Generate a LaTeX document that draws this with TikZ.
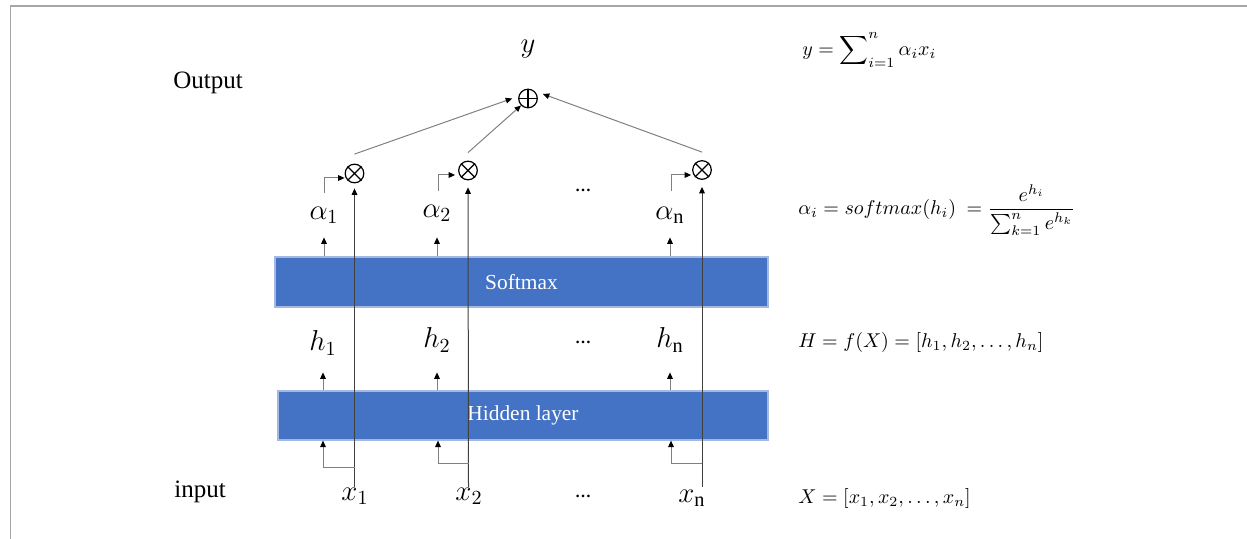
\documentclass[tikz,border=0pt]{standalone}
\usepackage{fontspec}
\setmainfont{Liberation Serif}
\usepackage{amsmath}
\usetikzlibrary{arrows.meta}
\definecolor{boxblue}{HTML}{4472C4}
\definecolor{boxedge}{HTML}{A5B8E0}
\definecolor{linegray}{HTML}{808080}
\definecolor{darkline}{HTML}{404040}
\definecolor{framegray}{HTML}{A6A6A6}
\begin{document}
\begin{tikzpicture}[x=0.5pt,y=-0.5pt,
  lbl/.style={inner sep=0pt, font=\fontsize{14.5}{17}\selectfont},
  frm/.style={inner sep=0pt, anchor=west, font=\fontsize{10.2}{13}\selectfont},
  ttl/.style={inner sep=0pt, font=\fontsize{12.5}{15}\selectfont},
  dotsnode/.style={inner sep=0pt, font=\bfseries\fontsize{8}{10}\selectfont},
  layer/.style={fill=boxblue, draw=boxedge, line width=0.6pt, text=white,
    font=\fontsize{10.7}{13}\selectfont, inner sep=0pt},
  tip/.style={-{Triangle[length=3.2pt,width=2.8pt,color=black]}},
  conn/.style={draw=linegray, line width=0.5pt, tip},
  vline/.style={draw=darkline, line width=0.5pt, tip},
  op/.style={circle, draw=black, line width=0.6pt, minimum size=9.3pt, inner sep=0pt},
]
\useasboundingbox (0,0) rectangle (1247,539);
\draw[framegray, line width=0.7pt] (10.5,539) -- (10.5,6) -- (1247,6);

% titles
\node[ttl, anchor=base] (out) at (208,89) {Output};
\node[ttl, anchor=base] (inp) at (200,497) {input};

% layers
\node[layer, minimum width=246.5pt, minimum height=25pt] (soft) at (521.5,282) {Softmax};
\node[layer, minimum width=245pt, minimum height=24.5pt] (hid) at (523,415.5) {Hidden layer};

% operators
\node[op] (m1) at (354.5,173.5) {};
\node[op] (m2) at (468,170.5) {};
\node[op] (mn) at (702,170) {};
\node[op] (plus) at (528,98.5) {};
\foreach \m in {m1,m2,mn}{
  \draw[line width=0.6pt] (\m.north west) -- (\m.south east) (\m.north east) -- (\m.south west);
}
\draw[line width=0.6pt] (plus.north) -- (plus.south) (plus.west) -- (plus.east);

% labels
\node[lbl] (y) at (528,49) {$y$};
\node[lbl] (a1) at (324,215) {$\alpha_1$};
\node[lbl] (a2) at (437,213) {$\alpha_2$};
\node[lbl] (an) at (670,215) {$\alpha_{\mathrm{n}}$};
\node[lbl] (h1) at (323,343) {$h_1$};
\node[lbl] (h2) at (437,340) {$h_2$};
\node[lbl] (hn) at (670,340) {$h_{\mathrm{n}}$};
\node[lbl] (x1) at (355,496) {$x_1$};
\node[lbl] (x2) at (469,496) {$x_2$};
\node[lbl] (xn) at (692,498) {$x_{\mathrm{n}}$};
\node[dotsnode] (d1) at (583,190) {\textellipsis};
\node[dotsnode] (d2) at (583,342) {\textellipsis};
\node[dotsnode] (d3) at (583,496) {\textellipsis};

% formulas
\node[frm] (fy) at (802,50) {$\displaystyle y=\sum\nolimits_{i=1}^{n}\alpha_i x_i$};
\node[frm] (fa) at (798,210) {$\displaystyle \alpha_i = softmax(h_i)\ = \frac{e^{h_i}}{\textstyle\sum_{k=1}^{n} e^{h_k}}$};
\node[frm] (fh) at (798,343) {$H=f(X)=[h_1,h_2,\ldots,h_n]$};
\node[frm] (fx) at (798,498) {$X=[x_1,x_2,\ldots,x_n]$};

% connectors to the sum
\draw[conn] ([yshift=4.75pt]m1.north) -- ([xshift=-3pt]plus.west);
\draw[conn] ([yshift=4pt]m2.north) -- (plus.south west);
\draw[conn] ([yshift=4pt]mn.north) -- ([shift={(2.5pt,2.25pt)}]plus.east);

% arrows above softmax
\draw[conn] (soft.north -| a1) -- ++(0,-19);
\draw[conn] (soft.north -| a2) -- ++(0,-19);
\draw[conn] (soft.north -| an) -- ++(0,-19);
% arrows above hidden layer
\draw[conn] (hid.north -| h1) -- ++(0,-18);
\draw[conn] (hid.north -| h2) -- ++(0,-18);
\draw[conn] (hid.north -| hn) -- ++(0,-18);

% elbows from alpha to multiply
\draw[conn] (324,193) |- ([yshift=-2.25pt]m1.west);
\draw[conn] (438,191) |- ([shift={(-1.5pt,-2.25pt)}]m2.west);
\draw[conn] (671,191) |- ([shift={(-0.5pt,-2.5pt)}]mn.west);

% long input lines
\draw[vline, shorten >=2.5pt] (354.5,487) -- (m1.south);
\draw[vline, shorten >=3.5pt] (468.5,487) -- (m2.south);
\draw[vline, shorten >=3.5pt] (702,487) -- (mn.south);

% elbows from inputs into hidden layer
\draw[conn] (354.5,467) -| ([xshift=-0.5pt]hid.south -| a1);
\draw[conn] (468.5,463) -| ([xshift=0.5pt]hid.south -| a2);
\draw[conn] (702,463) -| ([xshift=0.5pt]hid.south -| an);
\end{tikzpicture}
\end{document}
